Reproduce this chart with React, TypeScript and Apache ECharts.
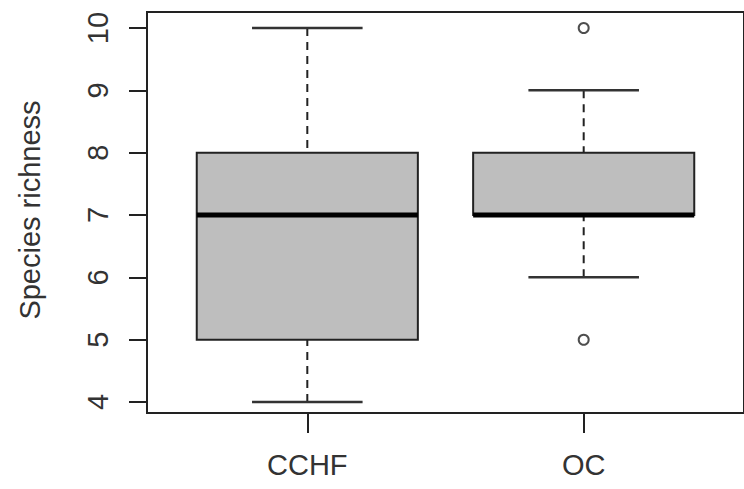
import React, { useEffect, useRef } from "react";
import * as echarts from "echarts";

const categories = ["CCHF", "OC"];
const whiskerLow = [4, 6];
const q1 = [5, 7];
const median = [7, 7];
const q3 = [8, 8];
const whiskerHigh = [10, 9];
const outlierGroup = ["OC", "OC"];
const outlierValues = [5, 10];
const yTicks = [4, 5, 6, 7, 8, 9, 10];
const yTitle = "Species richness";

const LINE = "#222";
const TEXT = "#333";
const FONT = "Liberation Sans, Arial, sans-serif";

export default function App() {
  const ref = useRef<HTMLDivElement>(null);
  useEffect(() => {
    if (!ref.current) return;
    const chart = echarts.init(ref.current, null, { renderer: "svg" });
    const boxData = categories.map((_, i) => [
      i + 1,
      whiskerLow[i],
      q1[i],
      median[i],
      q3[i],
      whiskerHigh[i],
    ]);
    const outData = outlierGroup.map((g, i) => [categories.indexOf(g) + 1, outlierValues[i]]);
    chart.setOption({
      animation: false,
      grid: {
        left: 147,
        right: -4,
        top: 12,
        bottom: 76,
        show: true,
        borderColor: LINE,
        borderWidth: 2,
        backgroundColor: "transparent",
      },
      xAxis: {
        type: "value",
        min: 0.42,
        max: 2.58,
        splitLine: { show: false },
        axisLine: { show: false },
        axisTick: {
          show: true,
          customValues: [1, 2],
          length: 20,
          lineStyle: { color: LINE, width: 2 },
        },
        axisLabel: {
          customValues: [1, 2],
          formatter: (v: number) => categories[Math.round(v) - 1] ?? "",
          margin: 37,
          fontSize: 29,
          color: TEXT,
          fontFamily: FONT,
        },
      },
      yAxis: {
        type: "value",
        min: 3.824,
        max: 10.257,
        splitLine: { show: false },
        axisLine: { show: false },
        axisTick: {
          show: true,
          customValues: yTicks,
          length: 18,
          lineStyle: { color: LINE, width: 2 },
        },
        axisLabel: {
          customValues: yTicks,
          rotate: 90,
          margin: 35,
          fontSize: 29,
          color: TEXT,
          fontFamily: FONT,
        },
      },
      graphic: [
        {
          type: "text",
          x: 30,
          y: 210,
          rotation: Math.PI / 2,
          style: {
            text: yTitle,
            fontSize: 29,
            fontFamily: FONT,
            fill: TEXT,
            align: "center",
            verticalAlign: "middle",
          },
        },
      ],
      series: [
        {
          type: "custom",
          data: boxData,
          encode: { x: 0, y: [1, 2, 3, 4, 5] },
          renderItem: (params: any, api: any) => {
            const x = api.value(0);
            const pLow = api.coord([x, api.value(1)]);
            const pQ1 = api.coord([x, api.value(2)]);
            const pMed = api.coord([x, api.value(3)]);
            const pQ3 = api.coord([x, api.value(4)]);
            const pHigh = api.coord([x, api.value(5)]);
            const halfW = api.size([0.8, 0])[0] / 2;
            const capW = halfW / 2;
            const cx = pMed[0];
            const dash = { stroke: LINE, lineWidth: 2, lineDash: [8, 6] };
            const solid = { stroke: "#333", lineWidth: 2.5 };
            return {
              type: "group",
              children: [
                { type: "line", shape: { x1: cx, y1: pHigh[1], x2: cx, y2: pQ3[1] }, style: dash },
                { type: "line", shape: { x1: cx, y1: pLow[1], x2: cx, y2: pQ1[1] }, style: dash },
                { type: "line", shape: { x1: cx - capW, y1: pHigh[1], x2: cx + capW, y2: pHigh[1] }, style: solid },
                { type: "line", shape: { x1: cx - capW, y1: pLow[1], x2: cx + capW, y2: pLow[1] }, style: solid },
                {
                  type: "rect",
                  shape: { x: cx - halfW, y: pQ3[1], width: 2 * halfW, height: pQ1[1] - pQ3[1] },
                  style: { fill: "#bebebe", stroke: LINE, lineWidth: 2 },
                },
                {
                  type: "line",
                  shape: { x1: cx - halfW, y1: pMed[1], x2: cx + halfW, y2: pMed[1] },
                  style: { stroke: "#000", lineWidth: 5 },
                },
              ],
            };
          },
        },
        {
          type: "scatter",
          data: outData,
          symbol: "circle",
          symbolSize: 10,
          itemStyle: { color: "#fff", borderColor: LINE, borderWidth: 2 },
        },
      ],
    });
    return () => chart.dispose();
  }, []);
  return (
    <div
      ref={ref}
      style={{ position: "fixed", left: 0, top: 0, width: 744, height: 489, background: "#fff" }}
    />
  );
}
